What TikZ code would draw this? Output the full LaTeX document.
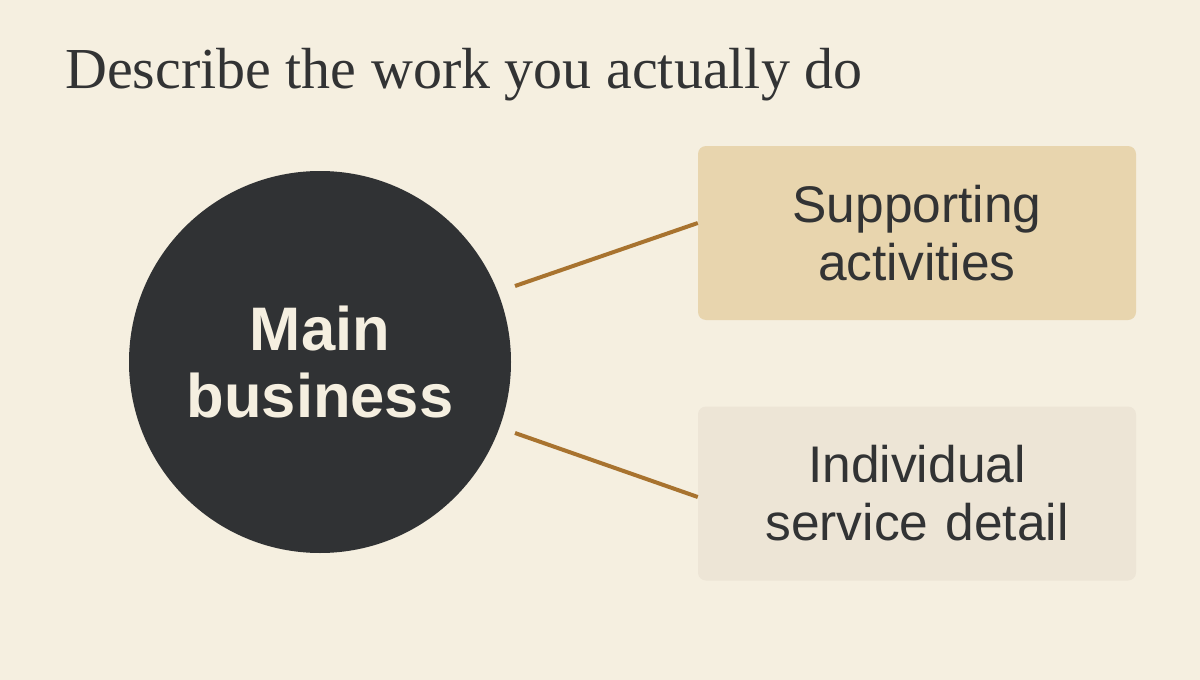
\documentclass[tikz,border=0pt]{standalone}
\usepackage{fontspec}
\setmainfont{Liberation Serif}
\newfontfamily\sansf{Liberation Sans}
\definecolor{bgc}{HTML}{F5EFE0}
\definecolor{darkc}{HTML}{303234}
\definecolor{box1c}{HTML}{E8D5AE}
\definecolor{box2c}{HTML}{EDE5D6}
\definecolor{linec}{HTML}{A8732F}
\definecolor{textc}{HTML}{323334}
\definecolor{creamc}{HTML}{F5EFE0}
\tikzset{
  panel/.style={rounded corners=8pt, inner sep=0pt, minimum width=438pt, minimum height=174pt, text width=420pt, align=center, font=\sansf\fontsize{51.5}{58}\selectfont, text=textc},
  link/.style={draw=linec, line width=4pt},
}
\begin{document}
\begin{tikzpicture}[x=1pt,y=-1pt]
\fill[bgc] (0,0) rectangle (1200,680);
\useasboundingbox (0,0) rectangle (1200,680);
\node[anchor=base west, inner sep=0pt, text=textc, font=\fontsize{58}{64}\selectfont] (title) at (65,88) {Describe the work you actually do};
\node[circle, fill=darkc, minimum size=382pt, inner sep=0pt, align=center, text=creamc, font=\sansf\bfseries\fontsize{61.5}{67}\selectfont] (main) at (320,362) {Main\\business};
\node[panel, fill=box1c] (sup) at (917,233) {Supporting\\activities};
\node[panel, fill=box2c] (ind) at (917,493.5) {Individual\\service detail};
\coordinate (a1) at (515,286);
\coordinate (a2) at (515,433);
\draw[link] (a1) -- (sup.west |- 0,223);
\draw[link] (a2) -- (ind.west |- 0,497);
\end{tikzpicture}
\end{document}
